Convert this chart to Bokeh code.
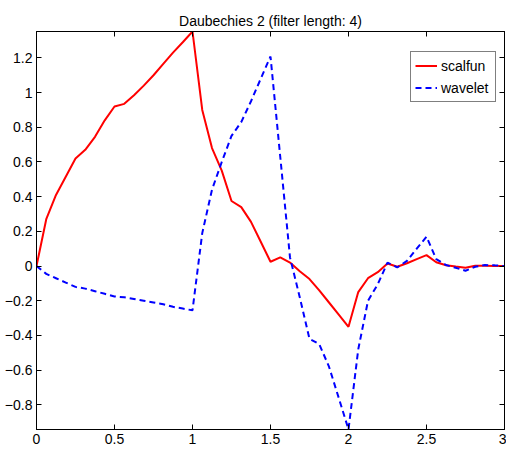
from bokeh.plotting import figure
from bokeh.models import (ColumnDataSource, Range1d, LinearAxis, FixedTicker,
                          CustomJSTickFormatter, Legend, LegendItem)
from bokeh.embed import file_html
from bokeh.resources import INLINE

# ---- data (x grid step 1/16) ----
x = [0.0, 0.0625, 0.125, 0.1875, 0.25, 0.3125, 0.375, 0.4375, 0.5, 0.5625,
     0.625, 0.6875, 0.75, 0.8125, 0.875, 0.9375, 1.0, 1.0625, 1.125, 1.1875,
     1.25, 1.3125, 1.375, 1.4375, 1.5, 1.5625, 1.625, 1.6875, 1.75, 1.8125,
     1.875, 1.9375, 2.0, 2.0625, 2.125, 2.1875, 2.25, 2.3125, 2.375, 2.4375,
     2.5, 2.5625, 2.625, 2.6875, 2.75, 2.8125, 2.875, 2.9375, 3.0]
scalfun = [0.0, 0.27, 0.41, 0.515, 0.62, 0.67, 0.745, 0.84, 0.92, 0.935,
           0.985, 1.04, 1.10, 1.165, 1.23, 1.29, 1.352, 0.90, 0.68, 0.55,
           0.375, 0.34, 0.255, 0.14, 0.025, 0.05, 0.02, -0.03, -0.075, -0.14,
           -0.21, -0.28, -0.35, -0.15, -0.07, -0.035, 0.015, -0.004, 0.016, 0.04,
           0.063, 0.022, 0.005, -0.003, -0.01, 0.002, 0.002, 0.0, 0.0]
wavelet = [0.0, -0.045, -0.07, -0.095, -0.12, -0.13, -0.145, -0.16, -0.175, -0.18,
           -0.19, -0.20, -0.21, -0.22, -0.235, -0.245, -0.255, 0.19, 0.44, 0.60,
           0.75, 0.83, 0.95, 1.08, 1.208, 0.63, 0.05, -0.18, -0.42, -0.45,
           -0.58, -0.76, -0.942, -0.48, -0.20, -0.105, 0.02, -0.008, 0.03, 0.10,
           0.169, 0.04, 0.006, -0.01, -0.027, -0.004, 0.006, 0.004, 0.0]
x_ticks = [0, 0.5, 1, 1.5, 2, 2.5, 3]
y_ticks = [-0.8, -0.6, -0.4, -0.2, 0, 0.2, 0.4, 0.6, 0.8, 1, 1.2]
title_text = "Daubechies 2 (filter length: 4)"

FONT = "Liberation Sans"
FS = "14px"

src = ColumnDataSource(dict(x=x, s=scalfun, w=wavelet))

p = figure(width=506, height=453, output_backend="svg", toolbar_location=None,
           x_range=Range1d(0, 3), y_range=Range1d(min(wavelet), max(scalfun)),
           x_axis_location=None, y_axis_location=None,
           min_border_left=36, min_border_right=2, min_border_top=31,
           min_border_bottom=24)
p.grid.visible = False
p.outline_line_color = "black"
p.outline_line_width = 1
p.background_fill_color = "white"
p.border_fill_color = "white"

p.title.text = title_text
p.title.align = "center"
p.title.offset = 17
p.title.text_font = FONT
p.title.text_font_size = FS
p.title.text_font_style = "normal"
p.title.text_color = "black"
p.title.standoff = 5

fmt = CustomJSTickFormatter(code="""
    var s = parseFloat(tick.toFixed(3)).toString();
    return s.replace('-', '\u2212');
""")
blank = CustomJSTickFormatter(code="return '';")

def style(ax, labels):
    ax.major_tick_in = 5
    ax.major_tick_out = 0
    ax.minor_tick_line_color = None
    ax.axis_line_color = "black"
    ax.major_tick_line_color = "black"
    ax.major_label_text_font = FONT
    ax.major_label_text_font_size = FS if labels else "0px"
    ax.major_label_text_color = "black"
    ax.major_label_standoff = 4 if labels else 0

xb = LinearAxis(ticker=FixedTicker(ticks=x_ticks), formatter=fmt)
style(xb, True)
xa = LinearAxis(ticker=FixedTicker(ticks=x_ticks), formatter=blank)
style(xa, False)
yl = LinearAxis(ticker=FixedTicker(ticks=y_ticks), formatter=fmt)
style(yl, True)
yr = LinearAxis(ticker=FixedTicker(ticks=y_ticks), formatter=blank)
style(yr, False)
p.add_layout(xb, "below")
p.add_layout(xa, "above")
p.add_layout(yl, "left")
p.add_layout(yr, "right")

r1 = p.line("x", "s", source=src, line_color="#ff0000", line_width=2)
r2 = p.line("x", "w", source=src, line_color="#0000ff", line_width=2,
            line_dash="6 4")

legend = Legend(items=[LegendItem(label="scalfun", renderers=[r1]),
                       LegendItem(label="wavelet", renderers=[r2])],
                location=(374, 327))
legend.border_line_color = "black"
legend.border_line_width = 1
legend.background_fill_color = "white"
legend.background_fill_alpha = 1
legend.label_text_font = FONT
legend.label_text_font_size = FS
legend.label_text_color = "black"
legend.glyph_width = 22
legend.glyph_height = 19
legend.label_height = 19
legend.label_width = 50
legend.label_standoff = 4
legend.padding = 4
legend.spacing = 3
legend.margin = 0
p.add_layout(legend)

open("out.html", "w").write(file_html(p, INLINE))
